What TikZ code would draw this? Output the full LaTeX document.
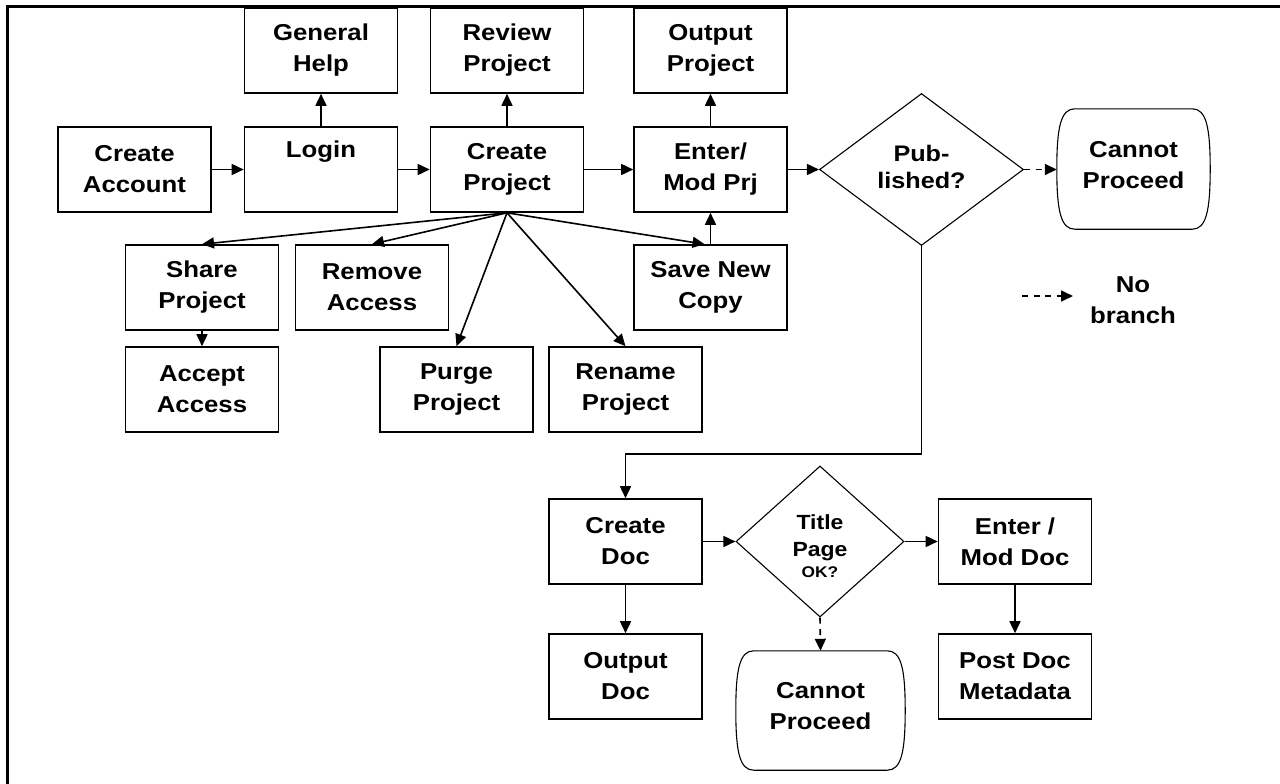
\documentclass[tikz,border=0pt]{standalone}
\usepackage{fontspec}
\setmainfont{Liberation Sans}[FakeStretch=1.12]
\usetikzlibrary{arrows.meta,shapes.geometric,calc}

% Terminal shape: straight top and bottom, bulging left and right sides
\newcommand\termshape[1]{%
  \draw[line width=1.1pt]
    ($(#1.north west)+(18,0)$) -- ($(#1.north east)+(-18,0)$)
    .. controls ($(#1.north east)+(-4,0)$) and ($(#1.east)+(0,-42)$) .. (#1.east)
    .. controls ($(#1.east)+(0,42)$) and ($(#1.south east)+(-4,0)$) .. ($(#1.south east)+(-18,0)$)
    -- ($(#1.south west)+(18,0)$)
    .. controls ($(#1.south west)+(4,0)$) and ($(#1.west)+(0,42)$) .. (#1.west)
    .. controls ($(#1.west)+(0,-42)$) and ($(#1.north west)+(4,0)$) .. cycle;}

\begin{document}
\begin{tikzpicture}[x=1pt,y=-1pt,
  boxfont/.style={font=\fontsize{23}{31}\selectfont\bfseries},
  stepbox/.style={draw, line width=1.6pt, rectangle, minimum width=153pt,
    minimum height=85pt, align=center, inner sep=0pt, boxfont},
  decision/.style={draw, line width=1.1pt, diamond, inner sep=0pt, align=center},
  terminal/.style={rectangle, inner sep=0pt, align=center, boxfont},
  arr/.style={line width=1.6pt, -{Triangle[length=12pt,width=11pt]}},
  noarr/.style={arr, dash pattern=on 6pt off 5.5pt}
]
\useasboundingbox (0,0) rectangle (1280,784);

% outer frame
\draw[line width=3pt] (7,784) -- (7,7) -- (1280,7);

% project row
\node[stepbox] (acct)   at (134.5,169.5) {Create\\Account};
\node[stepbox] (login)  at (321,169.5)   {Login\\\strut};
\node[stepbox] (help)   at (321,50.5)    {General\\Help};
\node[stepbox] (cproj)  at (507,169.5)   {Create\\Project};
\node[stepbox] (review) at (507,50.5)    {Review\\Project};
\node[stepbox] (enter)  at (710.5,169.5) {Enter/\\Mod Prj};
\node[stepbox] (outp)   at (710.5,50.5)  {Output\\Project};
\node[decision, minimum width=204pt, minimum height=152pt] (pub) at (921.5,169.5) {};
\node[font=\fontsize{22.5}{27}\selectfont\bfseries, align=center, inner sep=0pt]
      (pubtxt) at (921.5,167) {Pub-\\lished?};
\node[terminal, minimum width=153pt, minimum height=120pt] (cp1) at (1133.5,169) {};
\termshape{cp1}
\node[boxfont, align=center, inner sep=0pt] (cp1txt) at (1133.5,165) {Cannot\\Proceed};

% project actions
\node[stepbox] (share)  at (202,287.5)   {Share\\Project};
\node[stepbox] (remove) at (372,287.5)   {Remove\\Access};
\node[stepbox] (accept) at (202,389.5)   {Accept\\Access};
\node[stepbox] (purge)  at (456.5,389.5) {Purge\\Project};
\node[stepbox] (rename) at (625.5,389.5) {Rename\\Project};
\node[stepbox] (save)   at (710.5,287.5) {Save New\\Copy};

% document row
\node[stepbox] (cdoc) at (625.5,541.5) {Create\\Doc};
\node[decision, minimum width=168pt, minimum height=151pt] (title) at (820,541.5) {};
\node[font=\fontsize{20.5}{27}\selectfont\bfseries, align=center, inner sep=0pt]
      (titletxt) at (820,546)
      {Title\\Page\\[-6pt]{\fontsize{15.5}{20}\selectfont OK?}};
\node[stepbox] (edoc) at (1015,541.5)  {Enter /\\Mod Doc};
\node[stepbox] (odoc) at (625.5,676.5) {Output\\Doc};
\node[stepbox] (post) at (1015,676.5)  {Post Doc\\Metadata};
\node[terminal, minimum width=169pt, minimum height=119pt] (cp2) at (820.5,710.5) {};
\termshape{cp2}
\node[boxfont, align=center, inner sep=0pt] (cp2txt) at (820.5,706) {Cannot\\Proceed};

% legend
\coordinate (lg1) at (1022,296);
\coordinate (lg2) at (1073,296);
\node[boxfont, align=center] (nob) at (1133,300) {No\\branch};
\draw[noarr] (lg1) -- (lg2);

% main flow
\draw[arr] (acct) -- (login);
\draw[arr] (login) -- (cproj);
\draw[arr] (cproj) -- (enter);
\draw[arr] (enter) -- (pub.west);
\draw[noarr] (pub.east) -- (pub.east -| cp1.west);
\draw[arr] (login.north) -- (help.south);
\draw[arr] (cproj.north) -- (review.south);
\draw[arr] (enter.north) -- (outp.south);
\draw[arr] (save.north) -- (enter.south);

% fan from Create Project
\draw[arr] (cproj.south) -- (share.north);
\draw[arr] (cproj.south) -- (remove.north);
\draw[arr] (cproj.south) -- (purge.north);
\draw[arr] (cproj.south) -- (rename.north);
\draw[arr] (cproj.south) -- ($(save.north)+(-6,0)$);
\draw[arr] (share.south) -- (accept.north);

% published branch down to documents
\coordinate (bend) at (921.5,454);
\draw[arr] (pub.south) -- (bend) -| (cdoc.north);
\draw[arr] (cdoc.east) -- (title.west);
\draw[arr] (title.east) -- (edoc.west);
\draw[noarr] (title.south) -- (cp2.north);
\draw[arr] (cdoc.south) -- (odoc.north);
\draw[arr] (edoc.south) -- (post.north);
\end{tikzpicture}
\end{document}
